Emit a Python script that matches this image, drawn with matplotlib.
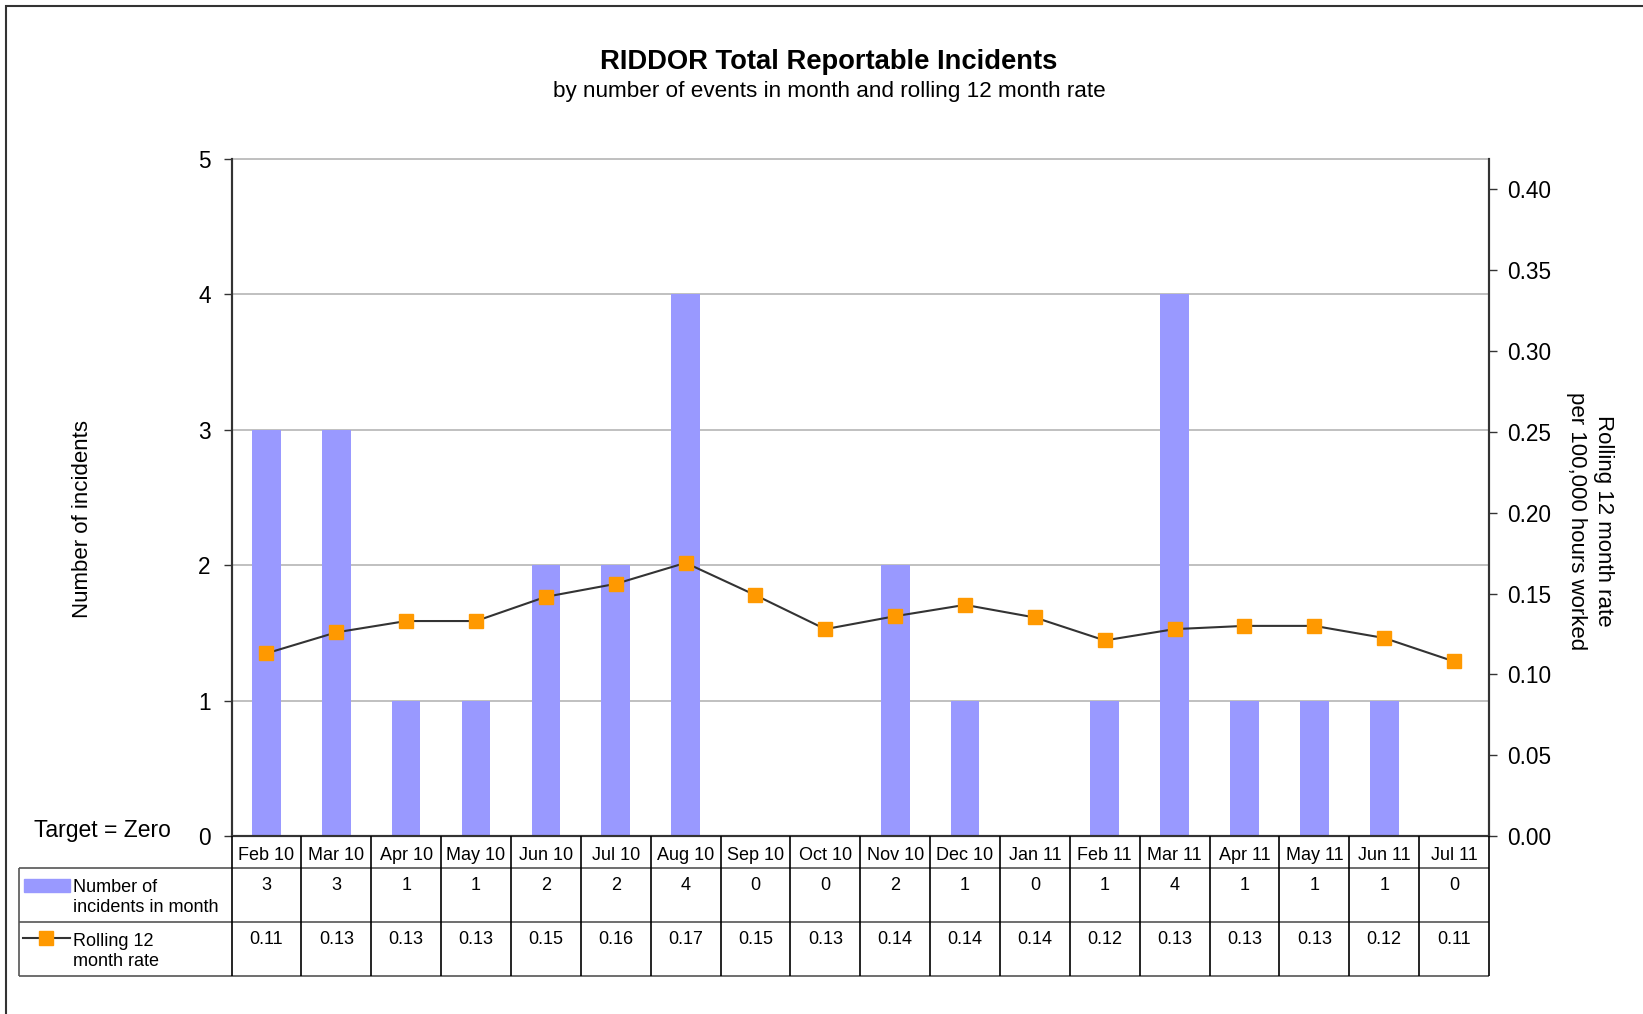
import matplotlib.pyplot as plt
import numpy as np
from matplotlib.patches import Rectangle
from matplotlib.lines import Line2D

plt.rcParams["font.family"] = ["Liberation Sans", "DejaVu Sans"]

W, H = 1643, 1014
BAR = "#9999FF"
ORANGE = "#FF9900"
DARK = "#333333"
GRID = "#C0C0C0"

months = ["Feb 10", "Mar 10", "Apr 10", "May 10", "Jun 10", "Jul 10", "Aug 10",
          "Sep 10", "Oct 10", "Nov 10", "Dec 10", "Jan 11", "Feb 11", "Mar 11",
          "Apr 11", "May 11", "Jun 11", "Jul 11"]
incidents = [3, 3, 1, 1, 2, 2, 4, 0, 0, 2, 1, 0, 1, 4, 1, 1, 1, 0]
rolling_rate = [0.113, 0.126, 0.133, 0.133, 0.148, 0.156, 0.169, 0.149, 0.128,
                0.136, 0.143, 0.1352, 0.121, 0.128, 0.130, 0.130, 0.1225, 0.108]

# plot area in pixels
L, R, T, B = 231.5, 1489, 159, 836
TB = 976  # table bottom
n = len(months)
cw = (R - L) / n


def fx(px):
    return px / W


def fy(py):
    return 1 - py / H


def ux(px):
    return -0.5 + (px - L) / cw


fig = plt.figure(figsize=(W / 100, H / 100), dpi=100)
fig.patches.append(Rectangle((fx(6), fy(1100)), 2, fy(6) - fy(1100), transform=fig.transFigure,
                             fill=False, edgecolor=DARK, lw=1.5))

ax = fig.add_axes([fx(L), fy(B), fx(R) - fx(L), fy(T) - fy(B)])
x = np.arange(n)
ax.bar(x, incidents, width=0.41, color=BAR, zorder=2)
ax.set_xlim(-0.5, n - 0.5)
ax.set_ylim(0, 5)
ax.set_yticks(range(6))
ax.set_xticks([])
ax.yaxis.grid(True, color=GRID, lw=1.4, zorder=0)
ax.set_axisbelow(True)
for s in ["left", "bottom", "right"]:
    ax.spines[s].set_color(DARK)
    ax.spines[s].set_linewidth(1.5)
ax.spines["top"].set_color(GRID)
ax.spines["top"].set_linewidth(1.4)
ax.tick_params(axis="y", labelsize=16.3, length=6, width=1, color=DARK, pad=9)
fig.text(fx(82), fy(519), "Number of incidents", rotation=90, ha="center", va="center",
         fontsize=16)

ax2 = ax.twinx()
ax2.plot(x, rolling_rate, color=DARK, lw=1.5, marker="s", ms=9.5,
         mfc=ORANGE, mec=ORANGE, zorder=3)
ax2.set_ylim(0, 0.4 * (B - T) / 646.5)
ax2.set_yticks(np.arange(0, 0.41, 0.05))
ax2.set_yticklabels([f"{v:.2f}" for v in np.arange(0, 0.41, 0.05)])
ax2.tick_params(axis="y", labelsize=16.3, length=6, width=1, color=DARK, pad=7)
for s in ["left", "bottom", "right"]:
    ax2.spines[s].set_color(DARK)
    ax2.spines[s].set_linewidth(1.5)
ax2.spines["top"].set_visible(False)

fig.text(fx(1590), fy(521), "Rolling 12 month rate\nper 100,000 hours worked",
         rotation=-90, ha="center", va="center", fontsize=16, linespacing=1.4)

fig.text(fx(829), fy(62), "RIDDOR Total Reportable Incidents", ha="center", va="center",
         fontsize=19.7, fontweight="bold")
fig.text(fx(829), fy(92), "by number of events in month and rolling 12 month rate",
         ha="center", va="center", fontsize=16.2)
fig.text(fx(34), fy(830), "Target = Zero", ha="left", va="center", fontsize=16.5)

# data table below the axis
tab = fig.add_axes([fx(19.3), fy(TB), fx(R) - fx(19.3), fy(B) - fy(TB)])
tab.set_xlim(ux(19.3), n - 0.5)
tab.set_ylim(TB, B)
tab.axis("off")
r1, r2 = 867.7, 922.3
kw = dict(clip_on=False, lw=1.2)
tab.hlines([r1, r2, TB], ux(19.3), n - 0.5, color="#555555", **kw)
tab.vlines(ux(19.3), r1, TB, color="#555555", **kw)
tab.vlines(np.arange(n + 1) - 0.5, B, TB, color="black", **kw)
for i, m in enumerate(months):
    tab.text(i, 855, m, ha="center", va="center", fontsize=13)
    tab.text(i, r1 + 9, str(incidents[i]), ha="center", va="top", fontsize=13)
    tab.text(i, r2 + 9, f"{rolling_rate[i]:.2f}", ha="center", va="top", fontsize=13)

tab.add_patch(Rectangle((ux(24), 879), ux(70) - ux(24), 13, color=BAR, clip_on=False))
tab.text(ux(73), 879, "Number of\nincidents in month", ha="left", va="top", fontsize=13)
tab.add_line(Line2D([ux(23), ux(70)], [938, 938], color=DARK, lw=1.5, clip_on=False))
tab.add_line(Line2D([ux(46.5)], [938], marker="s", ms=9.5, mfc=ORANGE, mec=ORANGE,
                    clip_on=False))
tab.text(ux(73), 933, "Rolling 12\nmonth rate", ha="left", va="top", fontsize=13)

fig.savefig("out.png", dpi=100, facecolor="white")
